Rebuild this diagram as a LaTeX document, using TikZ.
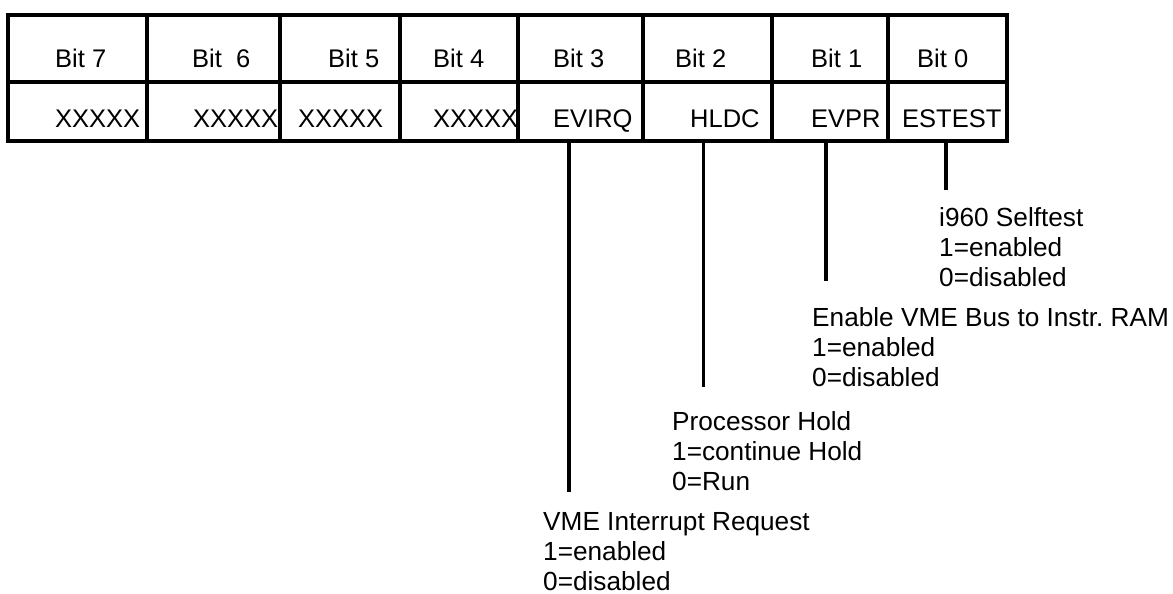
\documentclass[tikz,border=0pt]{standalone}
\usepackage{fontspec}
\setmainfont{Liberation Sans}
\frenchspacing
\begin{document}
\begin{tikzpicture}[x=1pt,y=-1pt,
  gridcell/.style={draw, line width=3.3pt, inner sep=0pt, outer sep=0pt},
  celltext/.style={anchor=base west, inner sep=0pt, font=\fontsize{25.5}{30}\selectfont},
  desc/.style={anchor=base west, inner sep=0pt, align=left, text depth=0pt, font=\fontsize{26.2}{30}\selectfont},
  link/.style={line width=3.3pt}]
\useasboundingbox (0,0) rectangle (1173,594);

% register cells: header row (h) and field row (b)
\foreach \l/\r/\n in {8/147/7, 147/280/6, 280/400/5, 400/518/4,
                      518/643/3, 643/772/2, 772/888/1, 888/1007/0} {
  \node[gridcell, minimum width=\r-\l, minimum height=67] (h\n) at ({(\l+\r)/2}, 48.5) {};
  \node[gridcell, minimum width=\r-\l, minimum height=59] (b\n) at ({(\l+\r)/2}, 111.5) {};
}

% header labels
\node[celltext] (t7) at (55,67)  {Bit 7};
\node[celltext] (t6) at (192,67) {Bit~~6};
\node[celltext] (t5) at (328,67) {Bit 5};
\node[celltext] (t4) at (433,67) {Bit 4};
\node[celltext] (t3) at (553,67) {Bit 3};
\node[celltext] (t2) at (675,67) {Bit 2};
\node[celltext] (t1) at (811,67) {Bit 1};
\node[celltext] (t0) at (917,67) {Bit 0};

% field names
\node[celltext] (f7) at (55,127)  {XXXXX};
\node[celltext] (f6) at (193,127) {XXXXX};
\node[celltext] (f5) at (298,127) {XXXXX};
\node[celltext] (f4) at (433,127) {XXXXX};
\node[celltext] (f3) at (553,127) {EVIRQ};
\node[celltext] (f2) at (690,127) {HLDC};
\node[celltext] (f1) at (811,127) {EVPR};
\node[celltext] (f0) at (902,127) {ESTEST};

% descriptions (anchored on the baseline of their last line)
\node[desc] (d0) at (939,286) {i960 Selftest\\1=enabled\\0=disabled};
\node[desc] (d1) at (812,386) {Enable VME Bus to Instr. RAM\\1=enabled\\0=disabled};
\node[desc] (d2) at (672,490) {Processor Hold\\1=continue Hold\\0=Run};
\node[desc] (d3) at (543,590) {VME Interrupt Request\\1=enabled\\0=disabled};

% leader line ends
\coordinate (l0) at (946,190);
\coordinate (l1) at (826,281);
\coordinate (l2) at (703.5,387);
\coordinate (l3) at (569,492);

\draw[link] (b0.south -| l0) -- (l0);
\draw[link] (b1.south -| l1) -- (l1);
\draw[link] (b2.south -| l2) -- (l2);
\draw[link] (b3.south -| l3) -- (l3);
\end{tikzpicture}
\end{document}
